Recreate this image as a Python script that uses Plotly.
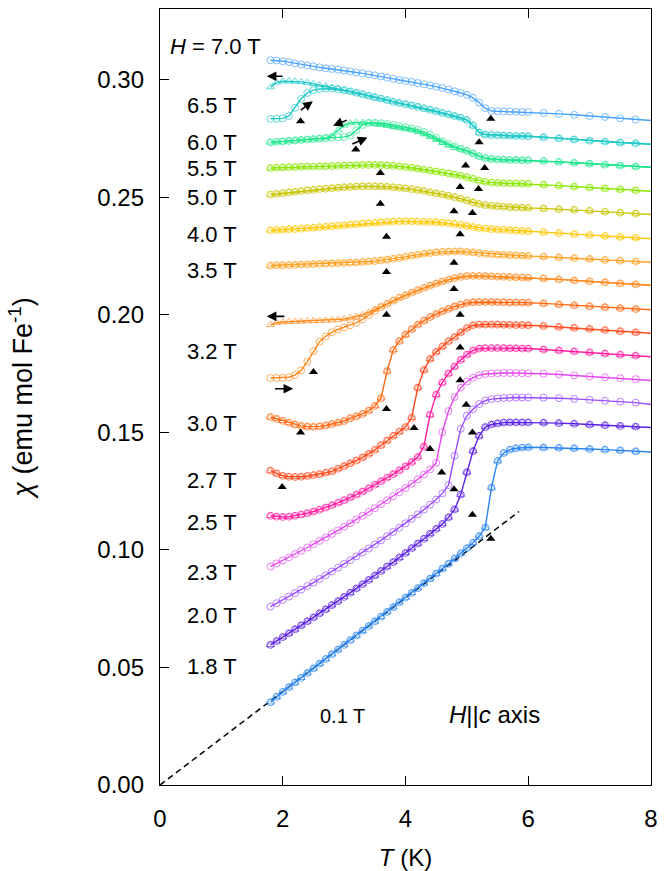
import plotly.graph_objects as go

# ---------------- data ----------------
T = [1.8, 1.9, 2.0, 2.1, 2.2, 2.3, 2.4, 2.5, 2.6, 2.7,
     2.8, 2.9, 3.0, 3.1, 3.2, 3.3, 3.4, 3.5, 3.6, 3.7,
     3.8, 3.9, 4.0, 4.1, 4.2, 4.3, 4.4, 4.5, 4.6, 4.7,
     4.8, 4.9, 5.0, 5.1, 5.2, 5.3, 5.4, 5.5, 5.6, 5.7,
     5.8, 5.9, 6.0,
     6.25, 6.5, 6.75, 7.0, 7.25, 7.5, 7.75, 8.0]

chi_70 = [.3082, .3081, .3078, .3074, .3069, .3064, .3060, .3056, .3052, .3048,
          .3045, .3042, .3038, .3034, .3030, .3026, .3022, .3018, .3013, .3008,
          .3003, .2998, .2994, .2990, .2985, .2980, .2975, .2970, .2964, .2958,
          .2950, .2943, .2935, .2922, .2902, .2878, .2866, .2865, .2864, .2864,
          .2863, .2862, .2862,
          .2858, .2854, .2850, .2845, .2841, .2835, .2830, .2826]

chi_65_cool = [.2968, .2988, .2993, .2993, .2992, .2990, .2987, .2982, .2977, .2972,
               .2966, .2961, .2955, .2949, .2943, .2937, .2930, .2924, .2918, .2912,
               .2906, .2900, .2895, .2890, .2884, .2878, .2872, .2865, .2858, .2852,
               .2845, .2838, .2828, .2805, .2775, .2766, .2764, .2763, .2762, .2761,
               .2760, .2760, .2759,
               .2755, .2750, .2745, .2740, .2736, .2732, .2729, .2725]
chi_65_warm = [.2833, .2833, .2835, .2845, .2880, .2918, .2943, .2955, .2960, .2962,
               .2961, .2959, .2955, .2950, .2944, .2938, .2931, .2925, .2919, .2913,
               .2906, .2900, .2895, .2890, .2884, .2878, .2872, .2865, .2858, .2852,
               .2845, .2838, .2828, .2805, .2775, .2766, .2764, .2763, .2762, .2761,
               .2760, .2760, .2759,
               .2755, .2750, .2745, .2740, .2736, .2732, .2729, .2725]

chi_60_cool = [.2733, .2735, .2737, .2739, .2741, .2743, .2745, .2747, .2749, .2752,
               .2760, .2785, .2805, .2815, .2818, .2817, .2815, .2812, .2808, .2804,
               .2799, .2794, .2790, .2785, .2778, .2768, .2756, .2744, .2731, .2720,
               .2711, .2704, .2696, .2686, .2674, .2666, .2662, .2660, .2659, .2658,
               .2658, .2657, .2657,
               .2654, .2650, .2646, .2642, .2638, .2634, .2630, .2627]
chi_60_warm = [.2733, .2735, .2737, .2739, .2741, .2743, .2745, .2747, .2749, .2751,
               .2753, .2755, .2756, .2762, .2785, .2807, .2816, .2816, .2814, .2811,
               .2807, .2802, .2797, .2792, .2786, .2777, .2765, .2752, .2738, .2726,
               .2715, .2706, .2697, .2686, .2674, .2666, .2662, .2660, .2659, .2658,
               .2658, .2657, .2657,
               .2654, .2650, .2646, .2642, .2638, .2634, .2630, .2627]

chi_55 = [.2624, .2625, .2626, .2627, .2628, .2629, .2630, .2630, .2631, .2631,
          .2632, .2633, .2634, .2635, .2636, .2637, .2637, .2637, .2636, .2635,
          .2633, .2631, .2628, .2625, .2621, .2617, .2613, .2609, .2605, .2601,
          .2596, .2591, .2585, .2578, .2570, .2565, .2562, .2560, .2559, .2558,
          .2558, .2557, .2557,
          .2553, .2549, .2545, .2541, .2537, .2533, .2529, .2525]

chi_50 = [.2511, .2514, .2517, .2520, .2523, .2526, .2529, .2531, .2534, .2536,
          .2538, .2540, .2542, .2543, .2545, .2546, .2546, .2546, .2545, .2544,
          .2542, .2540, .2537, .2534, .2530, .2526, .2521, .2516, .2511, .2506,
          .2500, .2493, .2486, .2478, .2471, .2466, .2463, .2461, .2459, .2457,
          .2456, .2455, .2454,
          .2452, .2449, .2446, .2442, .2438, .2434, .2430, .2426]

chi_40 = [.2359, .2360, .2361, .2363, .2364, .2366, .2368, .2370, .2372, .2374,
          .2376, .2378, .2380, .2383, .2385, .2387, .2389, .2391, .2393, .2395,
          .2396, .2397, .2397, .2397, .2396, .2395, .2394, .2393, .2391, .2389,
          .2386, .2382, .2378, .2373, .2369, .2366, .2364, .2362, .2361, .2359,
          .2358, .2356, .2355,
          .2351, .2347, .2343, .2339, .2335, .2331, .2327, .2323]

chi_35 = [.2209, .2210, .2210, .2211, .2212, .2213, .2214, .2215, .2216, .2217,
          .2218, .2219, .2220, .2221, .2222, .2224, .2226, .2228, .2231, .2234,
          .2238, .2242, .2246, .2251, .2255, .2259, .2262, .2265, .2267, .2268,
          .2269, .2269, .2267, .2265, .2262, .2259, .2257, .2255, .2254, .2253,
          .2252, .2251, .2250,
          .2247, .2244, .2241, .2237, .2233, .2230, .2226, .2223]

chi_32_cool = [.1957, .1966, .1969, .1970, .1971, .1972, .1973, .1974, .1975, .1976,
               .1977, .1979, .1982, .1986, .1992, .2000, .2010, .2022, .2035, .2047,
               .2060, .2072, .2083, .2094, .2104, .2114, .2124, .2133, .2141, .2149,
               .2156, .2161, .2164, .2165, .2165, .2164, .2163, .2162, .2161, .2160,
               .2159, .2158, .2157,
               .2154, .2150, .2146, .2142, .2138, .2133, .2129, .2125]
chi_32_warm = [.1731, .1731, .1731, .1734, .1743, .1763, .1800, .1845, .1885, .1908,
               .1925, .1937, .1946, .1955, .1966, .1980, .1998, .2016, .2032, .2046,
               .2060, .2072, .2083, .2094, .2104, .2114, .2124, .2133, .2141, .2149,
               .2156, .2161, .2164, .2165, .2165, .2164, .2163, .2162, .2161, .2160,
               .2159, .2158, .2157,
               .2154, .2150, .2146, .2142, .2138, .2133, .2129, .2125]

chi_30 = [.1565, .1557, .1549, .1541, .1533, .1527, .1524, .1523, .1525, .1529,
          .1535, .1541, .1548, .1560, .1568, .1578, .1592, .1612, .1645, .1760,
          .1850, .1888, .1915, .1938, .1958, .1975, .1990, .2003, .2014, .2025,
          .2035, .2043, .2050, .2053, .2054, .2054, .2054, .2053, .2053, .2052,
          .2052, .2051, .2051,
          .2048, .2044, .2040, .2036, .2032, .2028, .2024, .2021]

chi_27 = [.1337, .1325, .1315, .1311, .1310, .1311, .1314, .1318, .1322, .1328,
          .1334, .1345, .1356, .1368, .1380, .1393, .1408, .1425, .1445, .1465,
          .1485, .1503, .1522, .1562, .1690, .1765, .1812, .1842, .1865, .1887,
          .1905, .1925, .1943, .1955, .1958, .1958, .1958, .1958, .1957, .1957,
          .1956, .1956, .1955,
          .1952, .1948, .1944, .1940, .1935, .1930, .1925, .1921]

chi_25 = [.1145, .1141, .1140, .1141, .1145, .1150, .1156, .1163, .1171, .1180,
          .1190, .1200, .1211, .1223, .1235, .1248, .1262, .1277, .1292, .1307,
          .1322, .1338, .1355, .1373, .1395, .1440, .1575, .1660, .1712, .1750,
          .1780, .1808, .1830, .1848, .1856, .1858, .1858, .1858, .1858, .1857,
          .1857, .1856, .1856,
          .1852, .1848, .1844, .1840, .1835, .1830, .1826, .1821]

chi_23 = [.0929, .0942, .0955, .0968, .0982, .0996, .1010, .1024, .1038, .1053,
          .1068, .1083, .1098, .1113, .1129, .1145, .1161, .1177, .1194, .1211,
          .1228, .1245, .1263, .1281, .1300, .1320, .1342, .1370, .1500, .1590,
          .1650, .1690, .1715, .1732, .1743, .1748, .1750, .1751, .1752, .1752,
          .1752, .1751, .1751,
          .1749, .1746, .1742, .1738, .1734, .1730, .1726, .1720]

chi_20 = [.0759, .0773, .0787, .0801, .0816, .0831, .0846, .0861, .0876, .0892,
          .0908, .0924, .0940, .0956, .0972, .0989, .1006, .1023, .1040, .1058,
          .1076, .1094, .1113, .1132, .1151, .1171, .1192, .1214, .1240, .1275,
          .1400, .1515, .1570, .1598, .1620, .1635, .1641, .1644, .1646, .1647,
          .1648, .1648, .1648,
          .1647, .1645, .1642, .1638, .1634, .1630, .1626, .1618]

chi_18 = [.0596, .0612, .0629, .0645, .0662, .0679, .0696, .0713, .0730, .0747,
          .0765, .0782, .0800, .0818, .0836, .0854, .0872, .0891, .0910, .0929,
          .0948, .0967, .0987, .1007, .1027, .1047, .1068, .1089, .1110, .1138,
          .1172, .1235, .1330, .1420, .1485, .1522, .1533, .1538, .1541, .1542,
          .1542, .1542, .1542,
          .1541, .1539, .1536, .1533, .1530, .1527, .1524, .1520]

chi_01 = [.0352, .0375, .0396, .0416, .0436, .0456, .0476, .0496, .0516, .0536,
          .0556, .0576, .0596, .0616, .0636, .0656, .0676, .0696, .0716, .0736,
          .0756, .0777, .0797, .0817, .0837, .0858, .0878, .0899, .0920, .0941,
          .0963, .0985, .1007, .1030, .1058, .1095, .1265, .1378, .1412, .1426,
          .1432, .1435, .1436,
          .1435, .1434, .1432, .1429, .1426, .1423, .1419, .1416]

# linear fit line (dashed)
fit_T = [0.0, 5.85]
fit_chi = [0.0, 0.1163]

# transition markers (black triangles)
tr_T = [5.39, 2.29, 5.20, 3.19, 4.98, 5.29, 3.59, 4.89, 5.19, 3.59, 4.79, 5.09,
        3.69, 4.89, 3.69, 4.79, 4.79, 3.69, 4.89, 2.50, 4.89, 4.89, 3.69, 2.29,
        4.14, 4.99, 5.09, 4.40, 4.59, 4.79, 5.09, 5.39, 1.99]
tr_chi = [.2833, .2823, .2733, .2702, .2634, .2624, .2603, .2543, .2535, .2472, .2440, .2433,
          .2331, .2342, .2182, .2221, .2109, .2000, .2000, .1756, .1861, .1721, .1599, .1499,
          .1518, .1617, .1499, .1429, .1329, .1258, .1149, .1047, .1267]

# field labels: text, left T, centre chi
label_text = ["<i>H</i> = 7.0 T", "6.5 T", "6.0 T", "5.5 T", "5.0 T", "4.0 T", "3.5 T",
              "3.2 T", "3.0 T", "2.7 T", "2.5 T", "2.3 T", "2.0 T", "1.8 T"]
label_T = [0.13, 0.41, 0.41, 0.41, 0.41, 0.41, 0.41, 0.41, 0.41, 0.41, 0.41, 0.41, 0.41, 0.41]
label_chi = [.3140, .2889, .2733, .2620, .2497, .2340, .2189, .1844, .1536, .1296,
             .1115, .0903, .0720, .0503]

# sweep-direction arrows: head (T, chi), tail (T, chi)
arrow_head_T = [1.74, 2.49, 2.82, 3.38, 1.74, 2.17]
arrow_head_chi = [.3014, .2908, .2804, .2754, .1993, .1685]
arrow_tail_T = [2.02, 2.27, 3.07, 3.11, 2.05, 1.85]
arrow_tail_chi = [.3014, .2865, .2830, .2723, .1993, .1685]

# ---------------- styles ----------------
FONT = "Liberation Sans, Arial, sans-serif"
series = [
    # (data, colour, symbols)
    (chi_70, "#47a3ff", ["circle-open"]),
    (chi_65_cool, "#20c8c8", ["triangle-up-open"]),
    (chi_65_warm, "#20c8c8", ["circle-open"]),
    (chi_60_cool, "#1ee68c", ["triangle-up-open"]),
    (chi_60_warm, "#1ee68c", ["circle-open"]),
    (chi_55, "#8ae600", ["circle-open", "triangle-up-open"]),
    (chi_50, "#c8c400", ["circle-open", "triangle-up-open"]),
    (chi_40, "#ffc800", ["circle-open", "triangle-up-open"]),
    (chi_35, "#ffa01e", ["circle-open", "triangle-up-open"]),
    (chi_32_cool, "#ff8a1e", ["triangle-up-open"]),
    (chi_32_warm, "#ff8a1e", ["circle-open"]),
    (chi_30, "#ff6a14", ["circle-open", "triangle-up-open"]),
    (chi_27, "#ff4a1e", ["circle-open", "triangle-up-open"]),
    (chi_25, "#ff1ea0", ["circle-open", "triangle-up-open"]),
    (chi_23, "#e446f0", ["circle-open"]),
    (chi_20, "#9a4cff", ["circle-open"]),
    (chi_18, "#5a20e6", ["circle-open", "triangle-up-open"]),
    (chi_01, "#2a84f0", ["circle-open", "triangle-up-open"]),
]

fig = go.Figure()

fig.add_trace(go.Scatter(x=fit_T, y=fit_chi, mode="lines",
                         line=dict(color="black", width=1.5, dash="6px,4px"),
                         showlegend=False, hoverinfo="skip"))

n = len(T)
for data, col, syms in series:
    sizes = [7] * (n - 1) + [0]
    for k, s in enumerate(syms):
        fig.add_trace(go.Scatter(
            x=T, y=data, mode="lines+markers" if k == 0 else "markers",
            line=dict(color=col, width=1.4),
            marker=dict(symbol=s, size=sizes, color=col, line=dict(width=1, color=col)),
            showlegend=False))

fig.add_trace(go.Scatter(x=tr_T, y=tr_chi, mode="markers",
                         marker=dict(symbol="triangle-up", size=8, color="black"),
                         showlegend=False))

ann = []
for txt, x, y in zip(label_text, label_T, label_chi):
    ann.append(dict(x=x, y=y, xref="x", yref="y", text=txt, showarrow=False,
                    xanchor="left", yanchor="middle",
                    font=dict(family=FONT, size=22, color="black")))
ann.append(dict(x=2.57, y=0.0294, xref="x", yref="y", text="0.1 T", showarrow=False,
                xanchor="left", yanchor="middle", font=dict(family=FONT, size=20, color="black")))
ann.append(dict(x=4.67, y=0.0298, xref="x", yref="y", text="<i>H</i>||<i>c</i> axis",
                showarrow=False, xanchor="left", yanchor="middle",
                font=dict(family=FONT, size=24, color="black")))
for hx, hy, tx, ty in zip(arrow_head_T, arrow_head_chi, arrow_tail_T, arrow_tail_chi):
    ann.append(dict(x=hx, y=hy, ax=tx, ay=ty, xref="x", yref="y", axref="x", ayref="y",
                    text="", showarrow=True, arrowhead=2, arrowsize=1.2, arrowwidth=1.6,
                    arrowcolor="black"))

fig.update_layout(
    width=669, height=871,
    margin=dict(l=160, r=18, t=9, b=86, autoexpand=False),
    paper_bgcolor="white", plot_bgcolor="white",
    font=dict(family=FONT, size=22, color="black"),
    annotations=ann,
    showlegend=False,
)
fig.update_xaxes(range=[0, 8], tickvals=[0, 2, 4, 6, 8], ticks="inside", ticklen=9,
                 tickwidth=1.3, tickcolor="black", showline=True, linecolor="black",
                 linewidth=1.3, mirror="ticks", showgrid=False, zeroline=False,
                 automargin=False,
                 tickfont=dict(family=FONT, size=24), ticklabelstandoff=12,
                 title=dict(text="<i>T</i> (K)", font=dict(family=FONT, size=24), standoff=18))
fig.update_yaxes(range=[0, 0.33], tickvals=[0, 0.05, 0.10, 0.15, 0.20, 0.25, 0.30],
                 tickformat=".2f", ticks="inside", ticklen=9, tickwidth=1.3,
                 tickcolor="black", showline=True, linecolor="black", linewidth=1.3,
                 mirror=True, showgrid=False, zeroline=False, automargin=False,
                 tickfont=dict(family=FONT, size=24), ticklabelstandoff=10,
                 title=dict(text="<i>χ</i> (emu mol Fe<sup>-1</sup>)",
                            font=dict(family=FONT, size=27), standoff=56))

fig.write_html("out.html")
